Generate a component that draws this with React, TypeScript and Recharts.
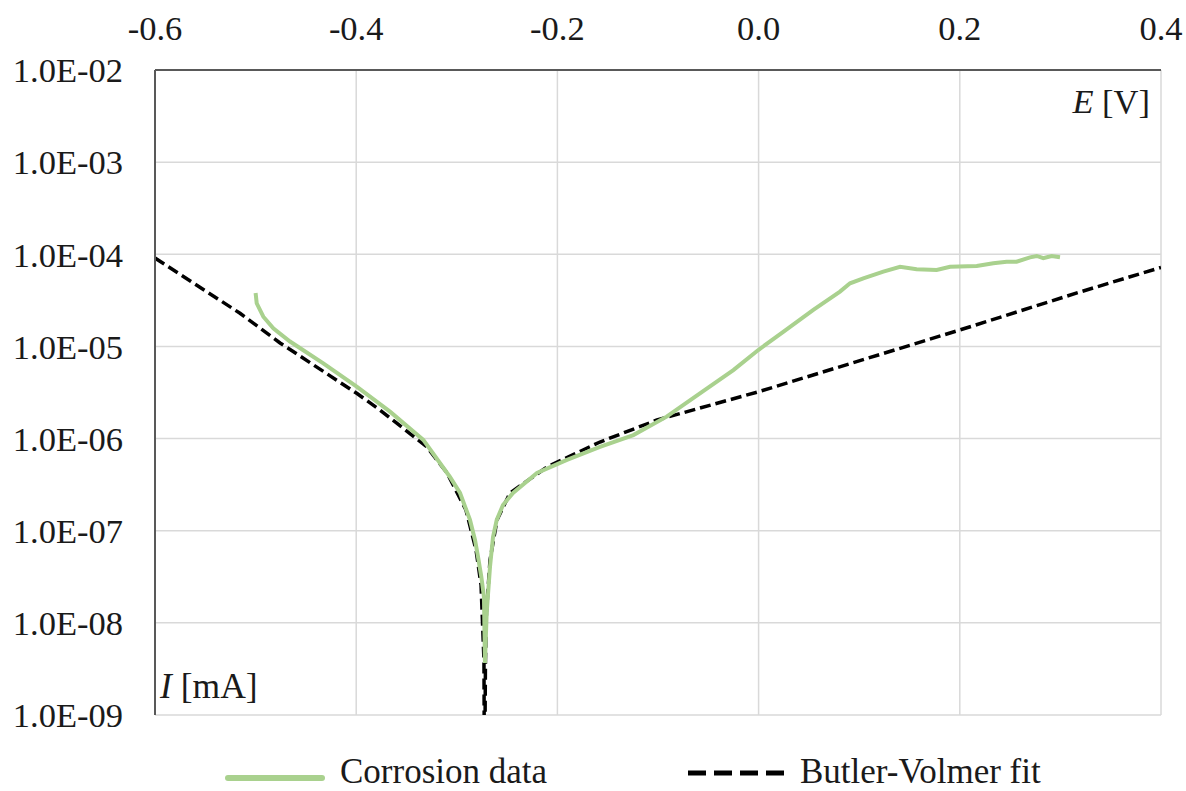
import React from "react";
import { LineChart, Line, XAxis, YAxis, CartesianGrid, Legend } from "recharts";

const corrosionE = [
  -0.5, -0.4989, -0.4923, -0.4824, -0.4658, -0.4327, -0.3995, -0.3664, -0.3333,
  -0.3068, -0.2968, -0.2869, -0.2819, -0.2789, -0.2757, -0.273, -0.272, -0.2703, -0.267,
  -0.264, -0.2603, -0.2541, -0.2441, -0.2203, -0.1905, -0.1577, -0.1245, -0.0914, -0.0583,
  -0.0251, -0.0003, 0.0245, 0.0544, 0.0809, 0.0909, 0.1041, 0.124, 0.1406, 0.1571, 0.177,
  0.1903, 0.2168, 0.2333, 0.2466, 0.2565, 0.2698, 0.2765, 0.283, 0.2913, 0.2996,
];
const corrosionI = [
  3.8e-5, 2.94e-5, 2.1e-5, 1.57e-5, 1.13e-5, 6.56e-6, 3.66e-6, 1.96e-6, 9.66e-7,
  3.83e-7, 2.57e-7, 1.31e-7, 7.94e-8, 5.19e-8, 3.2e-8, 1.91e-8, 3.67e-9, 1.28e-8, 4.05e-8,
  8.55e-8, 1.31e-7, 1.9e-7, 2.57e-7, 4.24e-7, 5.86e-7, 8.11e-7, 1.09e-6, 1.73e-6, 3.1e-6,
  5.54e-6, 9.14e-6, 1.44e-5, 2.49e-5, 3.93e-5, 4.84e-5, 5.49e-5, 6.48e-5, 7.33e-5, 6.87e-5, 6.76e-5,
  7.33e-5, 7.46e-5, 7.98e-5, 8.32e-5, 8.32e-5, 9.27e-5, 9.59e-5, 9.06e-5, 9.59e-5, 9.27e-5,
];

const fitE = [
  -0.6, -0.5155, -0.4757, -0.3995, -0.3763, -0.33, -0.3097, -0.2909, -0.2809, -0.2759, -0.273,
  -0.2725, -0.2715, -0.2705, -0.267, -0.26, -0.2471, -0.2103, -0.1577, -0.101, -0.0006,
  0.2002, 0.3195, 0.4,
];
const fitI = [
  9.1e-5, 2.29e-5, 1.09e-5, 3.1e-6, 2.04e-6, 8.17e-7, 4.24e-7, 1.68e-7, 6.18e-8, 2.58e-8, 3.95e-9,
  1e-10, 3.95e-9, 1.3e-8, 4.8e-8, 1.31e-7, 2.57e-7, 4.92e-7, 9.18e-7, 1.59e-6, 3.21e-6,
  1.51e-5, 3.9e-5, 7.2e-5,
];

const xTicks = [-0.6, -0.4, -0.2, 0.0, 0.2, 0.4];
const yTicks = [1e-9, 1e-8, 1e-7, 1e-6, 1e-5, 1e-4, 1e-3, 1e-2];

const seriesNames = ["Corrosion data", "Butler-Volmer fit"];

const corrosionData = corrosionE.map((e, i) => ({ E: e, I: corrosionI[i] }));
const fitData = fitE.map((e, i) => ({ E: e, I: fitI[i] }));

const FONT = '"Liberation Serif", "Times New Roman", serif';
const GREEN = "#a9d18e";
const TEXT = "#1a1a1a";
const FS = 34.5;

const fmtY = (v: number) => {
  const exp = Math.round(Math.log10(v));
  const sign = exp < 0 ? "-" : "+";
  const a = Math.abs(exp);
  return `1.0E${sign}${a < 10 ? "0" + a : a}`;
};
const fmtX = (v: number) => (Math.abs(v) < 1e-9 ? "0.0" : v.toFixed(1));

const LegendContent = () => (
  <svg width={1186} height={39} style={{ display: "block" }}>
    <line x1={228} x2={322} y1={26} y2={26} stroke={GREEN} strokeWidth={6} strokeLinecap="round" />
    <text x={340} y={31} fontFamily={FONT} fontSize={35} fill={TEXT}>{seriesNames[0]}</text>
    <line x1={688} x2={785} y1={21} y2={21} stroke="#000" strokeWidth={5} strokeDasharray="18 8" />
    <text x={800} y={31} fontFamily={FONT} fontSize={35} fill={TEXT}>{seriesNames[1]}</text>
  </svg>
);

export default function App() {
  return (
    <div style={{ position: "absolute", left: 0, top: 0, width: 1186, height: 791, background: "#fff", overflow: "hidden" }}>
      <LineChart
        width={1186}
        height={791}
        margin={{ top: 0, right: 25, bottom: 76, left: 0 }}
        style={{ fontFamily: FONT }}
      >
        <CartesianGrid stroke="#d9d9d9" strokeWidth={1.5} horizontal vertical />
        <XAxis
          type="number"
          dataKey="E"
          orientation="top"
          domain={[-0.6, 0.4]}
          ticks={xTicks}
          tickFormatter={fmtX}
          height={70}
          allowDataOverflow
          axisLine={{ stroke: "#595959", strokeWidth: 2 }}
          tickLine={false}
          tickSize={0}
          tickMargin={30}
          tick={{ fontSize: FS, fill: TEXT, fontFamily: FONT }}
          label={{
            content: () => (
              <text x={1150} y={113} textAnchor="end" fontFamily={FONT} fontSize={FS} fill={TEXT}>
                <tspan fontStyle="italic">E</tspan>
                <tspan> [V]</tspan>
              </text>
            ),
          }}
        />
        <YAxis
          type="number"
          dataKey="I"
          scale="log"
          domain={[1e-9, 1e-2]}
          ticks={yTicks}
          tickFormatter={fmtY}
          width={155}
          allowDataOverflow
          axisLine={{ stroke: "#595959", strokeWidth: 2 }}
          tickLine={false}
          tickSize={0}
          tickMargin={32}
          tick={{ fontSize: FS, fill: TEXT, fontFamily: FONT }}
          label={{
            content: () => (
              <text x={160} y={698} textAnchor="start" fontFamily={FONT} fontSize={FS + 1} fill={TEXT}>
                <tspan fontStyle="italic">I</tspan>
                <tspan> [mA]</tspan>
              </text>
            ),
          }}
        />
        <Line
          data={fitData}
          dataKey="I"
          name={seriesNames[1]}
          type="linear"
          stroke="#000"
          strokeWidth={3.5}
          strokeDasharray="11 5"
          dot={false}
          activeDot={false}
          isAnimationActive={false}
        />
        <Line
          data={corrosionData}
          dataKey="I"
          name={seriesNames[0]}
          type="linear"
          stroke={GREEN}
          strokeWidth={4}
          dot={false}
          activeDot={false}
          isAnimationActive={false}
        />
        <Legend
          layout="horizontal"
          verticalAlign="middle"
          wrapperStyle={{ left: 0, top: 752, width: 1186, height: 39 }}
          content={() => <LegendContent />}
        />
      </LineChart>
    </div>
  );
}
